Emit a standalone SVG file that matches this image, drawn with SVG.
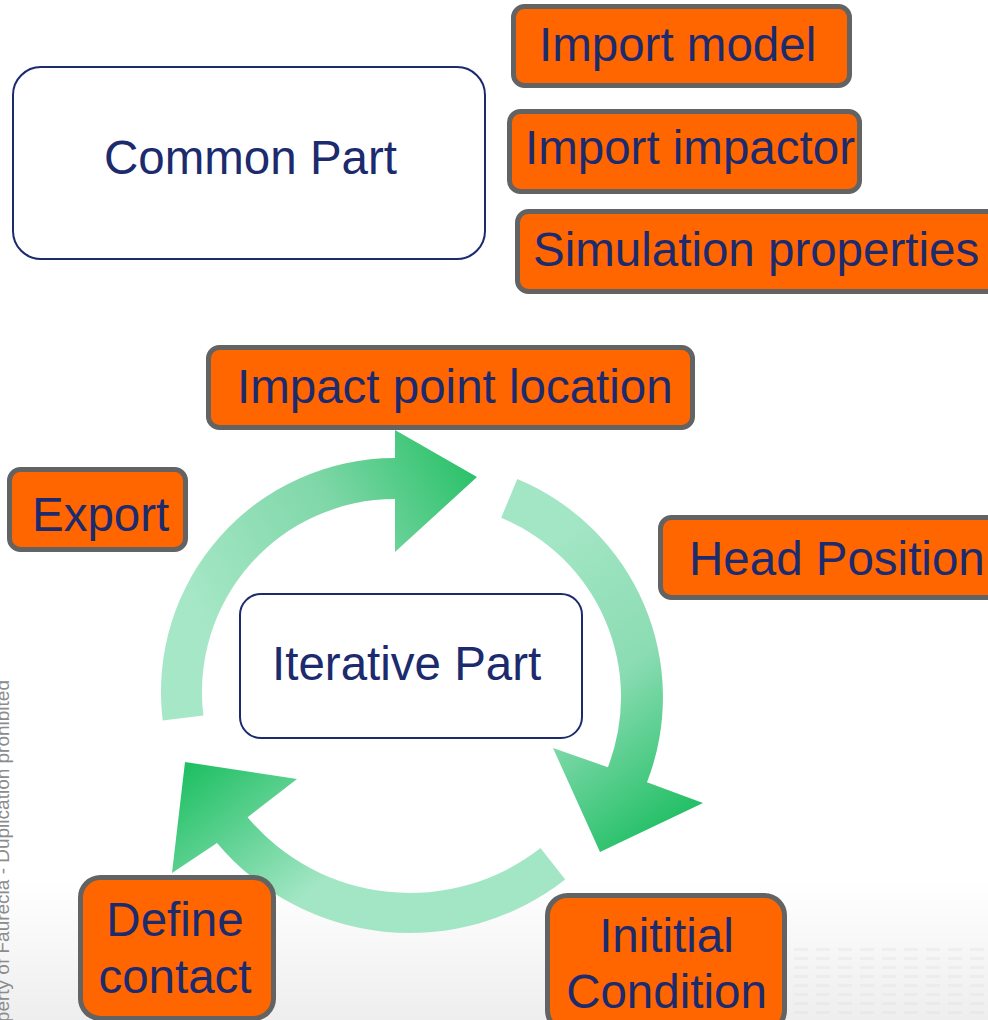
<svg xmlns="http://www.w3.org/2000/svg" width="988" height="1020" viewBox="0 0 988 1020">
  <style>
    .lbl { font-family: "Liberation Sans", Arial, sans-serif; font-size: 47.5px; fill: #1c2a6e; }
    .orange { fill: #ff6600; stroke: #636363; stroke-width: 5; }
    .plain { fill: #ffffff; stroke: #1c2a6e; stroke-width: 2; }
    .wm { font-family: "Liberation Sans", Arial, sans-serif; font-size: 19px; fill: #8c8c8c; }
  </style>
  <defs>
    <linearGradient id="bg" x1="0" y1="880" x2="0" y2="1020" gradientUnits="userSpaceOnUse">
      <stop offset="0" stop-color="#ffffff"/>
      <stop offset="1" stop-color="#eeeeee"/>
    </linearGradient>
    <linearGradient id="gA" x1="200" y1="620" x2="470" y2="470" gradientUnits="userSpaceOnUse">
      <stop offset="0" stop-color="#a6e7c7"/>
      <stop offset="0.55" stop-color="#7fd7a8"/>
      <stop offset="1" stop-color="#2dc26b"/>
    </linearGradient>
    <linearGradient id="gB" x1="520" y1="560" x2="700" y2="800" gradientUnits="userSpaceOnUse">
      <stop offset="0" stop-color="#a3e6c5"/>
      <stop offset="0.5" stop-color="#8bdcb3"/>
      <stop offset="1" stop-color="#25c067"/>
    </linearGradient>
    <linearGradient id="gC" x1="300" y1="900" x2="195" y2="765" gradientUnits="userSpaceOnUse">
      <stop offset="0" stop-color="#a3e6c5"/>
      <stop offset="1" stop-color="#22c065"/>
    </linearGradient>
    <pattern id="dots" x="0" y="0" width="22" height="9" patternUnits="userSpaceOnUse">
      <rect x="2" y="3" width="14" height="3" fill="#d8d8d8"/>
    </pattern>
  </defs>

  <rect x="0" y="0" width="988" height="1020" fill="#ffffff"/>
  <rect x="0" y="880" width="988" height="140" fill="url(#bg)"/>
  <rect x="790" y="945" width="198" height="75" fill="url(#dots)" opacity="0.25"/>
  <rect x="640" y="985" width="140" height="35" fill="url(#dots)" opacity="0.2"/>

  <text class="wm" transform="translate(9,680) rotate(-90)" text-anchor="end">Property of Faurecia - Duplication prohibited</text>

  <g id="connectors">
    <path d="M 162.7 720.5 A 234 234 0 0 1 395 458 L 395 430 L 477 477 L 395 552 L 395 499 A 193 193 0 0 0 203.4 715.5 Z" fill="url(#gA)"/>
    <path d="M 517.3 479 A 236 236 0 0 1 647 782.3 L 703 803 L 600 852 L 553 748 L 607.9 767.2 A 194 194 0 0 0 501.2 517.8 Z" fill="url(#gB)"/>
    <path d="M 565.2 879.6 A 252 252 0 0 1 217 843 L 172 873 L 185 762 L 297 779 L 247.6 817.3 A 212 212 0 0 0 540.5 848.1 Z" fill="url(#gC)"/>
  </g>

  <g id="common-part">
    <rect class="plain" x="13" y="67" width="472" height="192" rx="28"/>
    <text class="lbl" x="104" y="174">Common Part</text>
  </g>

  <g id="import-model">
    <rect class="orange" x="513.5" y="6.5" width="336" height="79" rx="11"/>
    <text class="lbl" x="539" y="61">Import model</text>
  </g>

  <g id="import-impactor">
    <rect class="orange" x="509.5" y="111.5" width="350" height="80" rx="11"/>
    <text class="lbl" x="525" y="164">Import impactor</text>
  </g>

  <g id="simulation-properties">
    <rect class="orange" x="517.5" y="211.5" width="480" height="80" rx="11"/>
    <text class="lbl" x="533" y="266">Simulation properties</text>
  </g>

  <g id="impact-point-location">
    <rect class="orange" x="208.5" y="347.5" width="484" height="80" rx="11"/>
    <text class="lbl" x="237" y="403">Impact point location</text>
  </g>

  <g id="export">
    <rect class="orange" x="9.5" y="469.5" width="176" height="80" rx="11"/>
    <text class="lbl" x="32" y="531">Export</text>
  </g>

  <g id="head-position">
    <rect class="orange" x="660.5" y="517.5" width="340" height="80" rx="11"/>
    <text class="lbl" x="689" y="575">Head Position</text>
  </g>

  <g id="iterative-part">
    <rect class="plain" x="240" y="594" width="342" height="144" rx="21"/>
    <text class="lbl" x="272" y="680">Iterative Part</text>
  </g>

  <g id="define-contact">
    <rect class="orange" x="80.5" y="877.5" width="193" height="141" rx="20"/>
    <text class="lbl" x="175" y="936" text-anchor="middle">Define</text>
    <text class="lbl" x="175" y="993" text-anchor="middle">contact</text>
  </g>

  <g id="initial-condition">
    <rect class="orange" x="547.5" y="895.5" width="237" height="135" rx="20"/>
    <text class="lbl" x="666.5" y="952" text-anchor="middle">Inititial</text>
    <text class="lbl" x="666.5" y="1008" text-anchor="middle">Condition</text>
  </g>
</svg>
